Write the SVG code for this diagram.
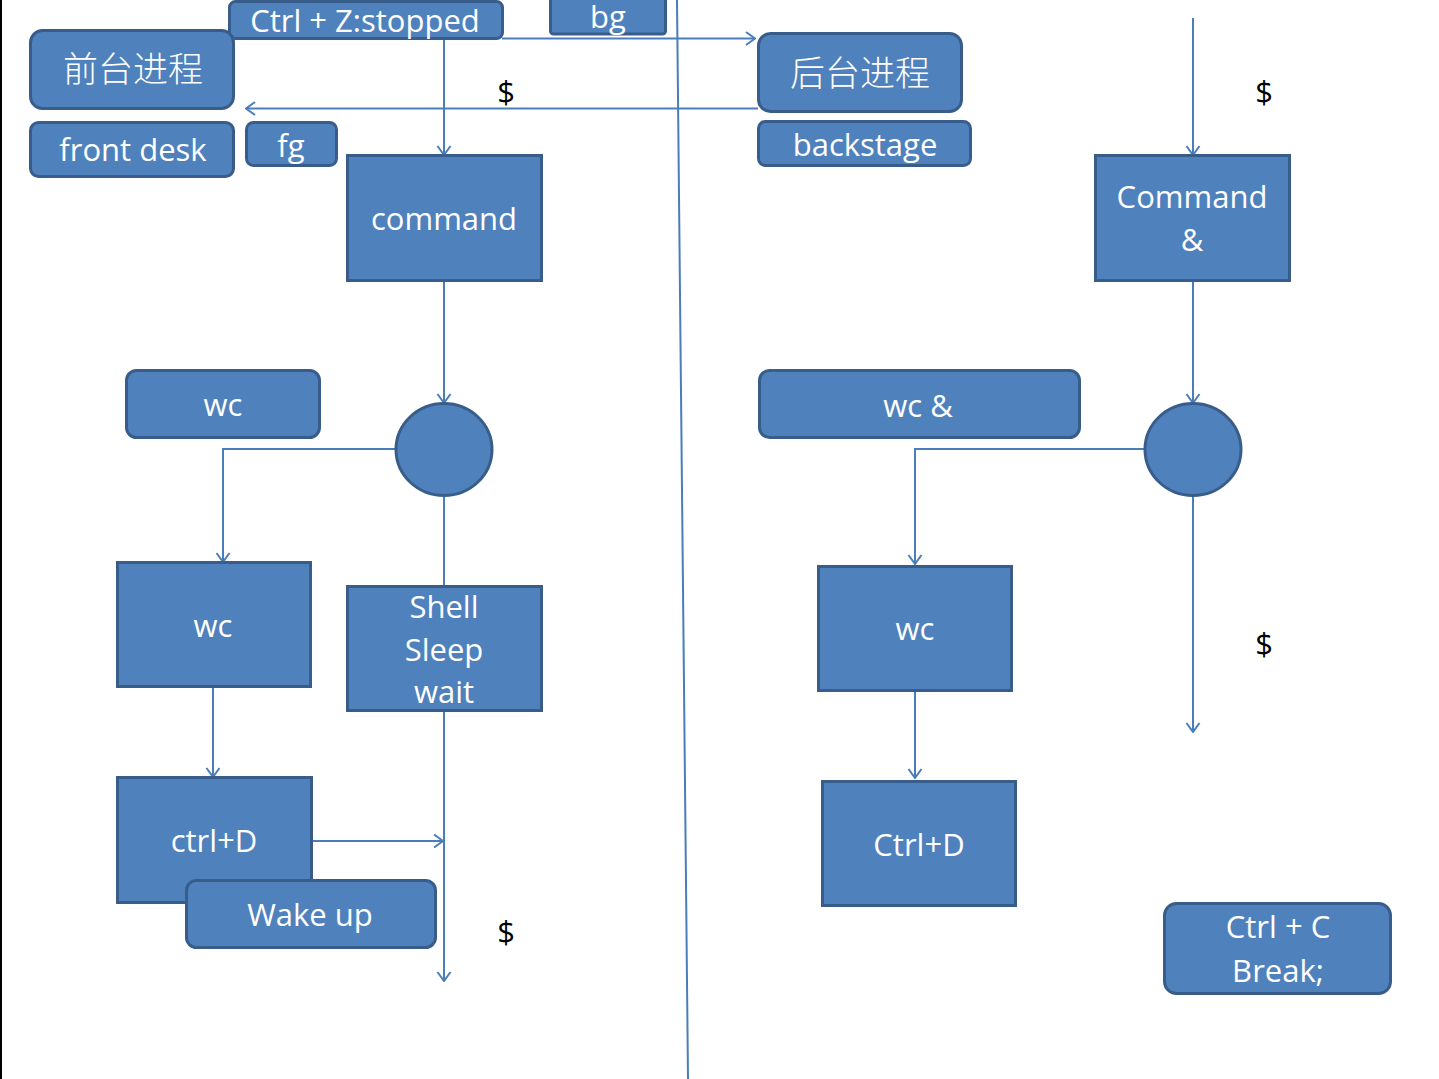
<svg xmlns="http://www.w3.org/2000/svg" width="1439" height="1079" viewBox="0 0 1439 1079">
  <style>
    .box { fill: #4F81BD; stroke: #385D8A; stroke-width: 3; }
    .lbl { fill: #FFFFFF; font-family: "Open Sans", "Liberation Sans", sans-serif; font-size: 31px; text-anchor: middle; }
    .cjk { fill: #FFFFFF; font-family: "Noto Sans CJK SC", sans-serif; font-size: 35px; font-weight: 300; text-anchor: middle; }
    .dollar { fill: #000000; font-family: "Open Sans", "Liberation Sans", sans-serif; font-size: 31px; text-anchor: middle; }
    .wire { fill: none; stroke: #4A7EBB; stroke-width: 2; }
    .arrow { marker-end: url(#open-arrow); }
  </style>
  <defs>
    <marker id="open-arrow" markerUnits="userSpaceOnUse" markerWidth="16" markerHeight="16" viewBox="0 0 16 16" refX="15" refY="8" orient="auto">
      <path d="M6,1.5 L15,8 L6,14.5" fill="none" stroke="#4A7EBB" stroke-width="2"/>
    </marker>
  </defs>

  <rect x="0" y="0" width="1439" height="1079" fill="#FFFFFF"/>
  <rect x="0" y="0" width="2" height="1079" fill="#000000"/>

  <!-- divider between foreground and background halves -->
  <line x1="677" y1="0" x2="688" y2="1079" stroke="#4A7EBB" stroke-width="2"/>

  <!-- connectors -->
  <g id="connectors">
    <path class="wire arrow" d="M502,38.5 H755"/>
    <path class="wire arrow" d="M444,39 V155"/>
    <path class="wire arrow" d="M758,108.5 H246"/>
    <path class="wire arrow" d="M444,281 V403"/>
    <path class="wire arrow" d="M395,449 H223 V562"/>
    <path class="wire" d="M444,495 V586"/>
    <path class="wire arrow" d="M444,711 V981"/>
    <path class="wire arrow" d="M213,687 V777"/>
    <path class="wire arrow" d="M312,841 H443"/>
    <path class="wire arrow" d="M1193,18 V155"/>
    <path class="wire arrow" d="M1193,281 V403"/>
    <path class="wire arrow" d="M1144,449 H915 V564"/>
    <path class="wire arrow" d="M915,690 V778"/>
    <path class="wire arrow" d="M1193,495 V732"/>
  </g>

  <!-- foreground side -->
  <g id="ctrl-z">
    <rect class="box" x="229.5" y="1.5" width="273" height="37" rx="6"/>
    <text class="lbl" x="365" y="32">Ctrl + Z:stopped</text>
  </g>
  <g id="bg">
    <rect class="box" x="550.5" y="-6" width="115" height="40" rx="3"/>
    <text class="lbl" x="608" y="28">bg</text>
  </g>
  <g id="front-cn">
    <rect class="box" x="30.5" y="30.5" width="203" height="78" rx="12"/>
    <text class="cjk" x="133" y="82">前台进程</text>
  </g>
  <g id="front-desk">
    <rect class="box" x="30.5" y="122.5" width="203" height="54" rx="8"/>
    <text class="lbl" x="133" y="161">front desk</text>
  </g>
  <g id="fg">
    <rect class="box" x="246.5" y="122.5" width="90" height="43" rx="7"/>
    <text class="lbl" x="291" y="157">fg</text>
  </g>
  <g id="command">
    <rect class="box" x="347.5" y="155.5" width="194" height="125"/>
    <text class="lbl" x="444" y="230">command</text>
  </g>
  <g id="split-left">
    <ellipse class="box" cx="444" cy="449.5" rx="48" ry="46"/>
  </g>
  <g id="wc-label">
    <rect class="box" x="126.5" y="370.5" width="193" height="67" rx="10"/>
    <text class="lbl" x="223" y="416">wc</text>
  </g>
  <g id="wc-left">
    <rect class="box" x="117.5" y="562.5" width="193" height="124"/>
    <text class="lbl" x="213" y="637">wc</text>
  </g>
  <g id="shell">
    <rect class="box" x="347.5" y="586.5" width="194" height="124"/>
    <text class="lbl" x="444" y="618">Shell</text>
    <text class="lbl" x="444" y="661">Sleep</text>
    <text class="lbl" x="444" y="703">wait</text>
  </g>
  <g id="ctrl-d-left">
    <rect class="box" x="117.5" y="777.5" width="194" height="125"/>
    <text class="lbl" x="214" y="852">ctrl+D</text>
  </g>
  <g id="wake-up">
    <rect class="box" x="186.5" y="880.5" width="249" height="67" rx="10"/>
    <text class="lbl" x="310" y="926">Wake up</text>
  </g>
  <text class="dollar" x="506" y="103">$</text>
  <text class="dollar" x="506" y="943">$</text>

  <!-- background side -->
  <g id="back-cn">
    <rect class="box" x="758.5" y="33.5" width="203" height="78" rx="12"/>
    <text class="cjk" x="860" y="86">后台进程</text>
  </g>
  <g id="backstage">
    <rect class="box" x="758.5" y="121.5" width="212" height="44" rx="7"/>
    <text class="lbl" x="865" y="156">backstage</text>
  </g>
  <g id="command-amp">
    <rect class="box" x="1095.5" y="155.5" width="194" height="125"/>
    <text class="lbl" x="1192" y="208">Command</text>
    <text class="lbl" x="1192" y="251">&amp;</text>
  </g>
  <g id="split-right">
    <ellipse class="box" cx="1193" cy="449.5" rx="48" ry="46"/>
  </g>
  <g id="wc-amp">
    <rect class="box" x="759.5" y="370.5" width="320" height="67" rx="10"/>
    <text class="lbl" x="918" y="417">wc &amp;</text>
  </g>
  <g id="wc-right">
    <rect class="box" x="818.5" y="566.5" width="193" height="124"/>
    <text class="lbl" x="915" y="640">wc</text>
  </g>
  <g id="ctrl-d-right">
    <rect class="box" x="822.5" y="781.5" width="193" height="124"/>
    <text class="lbl" x="919" y="856">Ctrl+D</text>
  </g>
  <g id="ctrl-c">
    <rect class="box" x="1164.5" y="903.5" width="226" height="90" rx="12"/>
    <text class="lbl" x="1278" y="938">Ctrl + C</text>
    <text class="lbl" x="1278" y="982">Break;</text>
  </g>
  <text class="dollar" x="1264" y="103">$</text>
  <text class="dollar" x="1264" y="655">$</text>
</svg>
